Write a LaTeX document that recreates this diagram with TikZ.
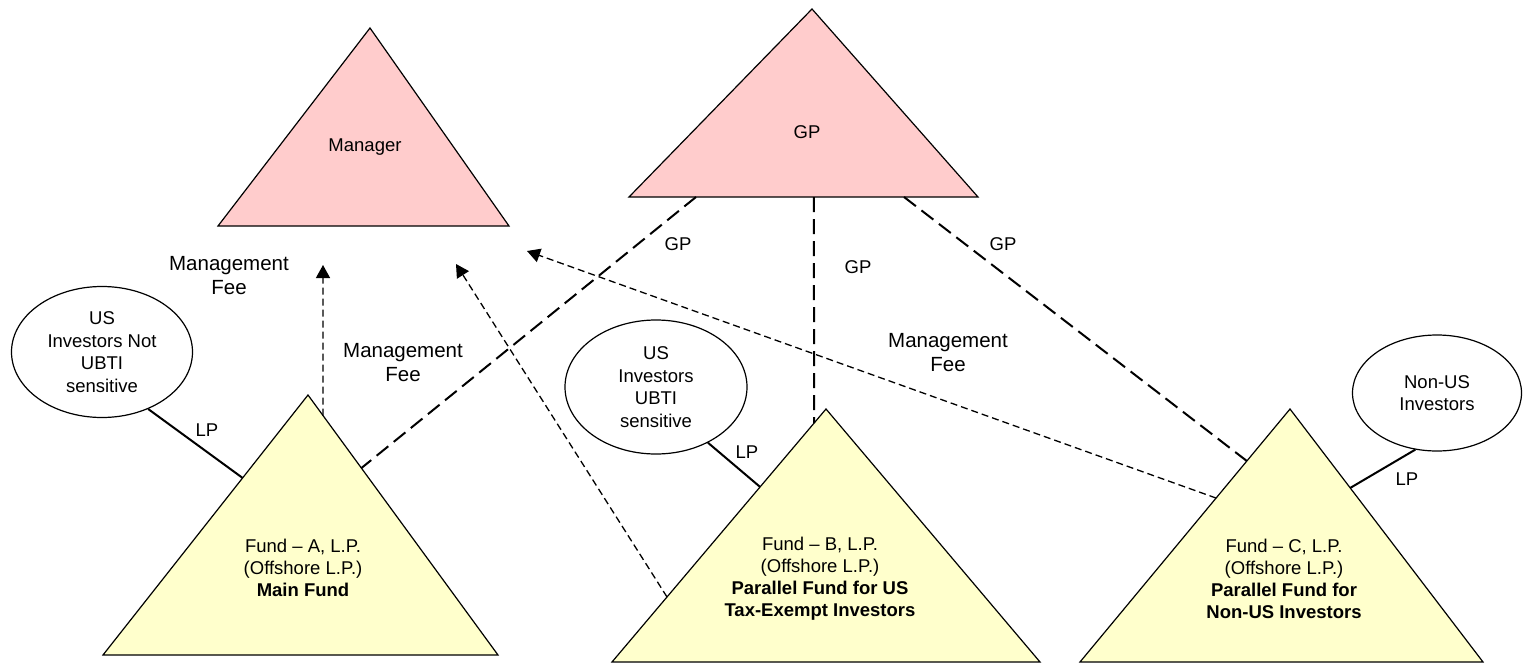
\documentclass[tikz,border=0pt]{standalone}
\usepackage{fontspec}
\setmainfont{Liberation Sans}
\usetikzlibrary{calc,arrows.meta,shapes.geometric}
\definecolor{entityred}{HTML}{FFCCCC}
\definecolor{fundyellow}{HTML}{FFFFCC}

\begin{document}
\begin{tikzpicture}[x=1pt,y=-1pt,
  entity/.style={draw=black, line width=1.2pt, line join=miter},
  topentity/.style={entity, fill=entityred},
  fundentity/.style={entity, fill=fundyellow},
  investor/.style={draw, ellipse, line width=1.2pt, inner sep=0pt, align=center,
    font=\fontsize{18.5}{22.5}\selectfont},
  txt/.style={align=center, inner sep=0pt, font=\fontsize{18.5}{22}\selectfont},
  feetxt/.style={align=center, inner sep=0pt, font=\fontsize{20.5}{24}\selectfont},
  lpline/.style={line width=2pt},
  gpline/.style={line width=2pt, dash pattern=on 15pt off 7pt},
  feeline/.style={line width=1.3pt, dash pattern=on 7pt off 4pt,
    -{Triangle[length=13pt,width=14pt]}},
]
\useasboundingbox (0,0) rectangle (1527,664);

% ---- triangle corners ----
\coordinate (M-t) at (370,28);  \coordinate (M-l) at (218,226); \coordinate (M-r) at (509,226);
\coordinate (G-t) at (812,9);   \coordinate (G-l) at (629,197); \coordinate (G-r) at (978,197);
\coordinate (A-t) at (308,395); \coordinate (A-l) at (103,655); \coordinate (A-r) at (498,655);
\coordinate (B-t) at (826,409); \coordinate (B-l) at (612,662); \coordinate (B-r) at (1040,662);
\coordinate (C-t) at (1290,409);\coordinate (C-l) at (1080,662);\coordinate (C-r) at (1483,662);

% ---- entities ----
\draw[topentity] (M-t) -- (M-r) -- (M-l) -- cycle;
\draw[topentity] (G-t) -- (G-r) -- (G-l) -- cycle;
\draw[fundentity] (A-t) -- (A-r) -- (A-l) -- cycle;
\draw[fundentity] (B-t) -- (B-r) -- (B-l) -- cycle;
\draw[fundentity] (C-t) -- (C-r) -- (C-l) -- cycle;

\node[txt] (manager) at (365,147) {Manager};
\node[txt] (gp) at (807,132) {GP};
\node[txt] (fundA) at (303,568) {Fund – A, L.P.\\(Offshore L.P.)\\\textbf{Main Fund}};
\node[txt] (fundB) at (820,579) {Fund – B, L.P.\\(Offshore L.P.)\\\textbf{Parallel Fund for US}\\\textbf{Tax-Exempt Investors}};
\node[txt] (fundC) at (1284,579) {Fund – C, L.P.\\(Offshore L.P.)\\\textbf{Parallel Fund for}\\\textbf{Non-US Investors}};

% ---- investor groups ----
\node[investor, minimum width=181pt, minimum height=131pt] (usnot) at (102,352) {US\\Investors Not\\UBTI\\sensitive};
\node[investor, minimum width=182pt, minimum height=134pt] (ubti) at (656,387) {US\\Investors\\UBTI\\sensitive};
\node[investor, minimum width=169pt, minimum height=116pt] (nonus) at (1437,393) {Non-US\\Investors};

% ---- connection points on the triangle edges ----
\coordinate (G-a) at ($(G-l)!0.192!(G-r)$);
\coordinate (G-b) at ($(G-l)!0.530!(G-r)$);
\coordinate (G-c) at ($(G-l)!0.788!(G-r)$);
\coordinate (A-gp) at ($(A-t)!0.281!(A-r)$);
\coordinate (B-gp) at ($(B-t)!0.056!(B-l)$);
\coordinate (C-gp) at ($(C-t)!0.2055!(C-l)$);

\coordinate (A-fee) at ($(A-t)!0.079!(A-r)$);
\coordinate (B-fee) at ($(B-t)!0.743!(B-l)$);
\coordinate (C-fee) at ($(C-t)!0.352!(C-l)$);
\coordinate (feeA) at (323,265);
\coordinate (feeB) at (456,264);
\coordinate (feeC) at (527,251);

\coordinate (A-lp) at ($(A-t)!0.319!(A-l)$);
\coordinate (B-lp) at ($(B-t)!0.308!(B-l)$);
\coordinate (C-lp) at ($(C-t)!0.312!(C-r)$);

% ---- GP interests ----
\draw[gpline] (G-a) -- (A-gp);
\draw[gpline] (G-b) -- (B-gp);
\draw[gpline] (G-c) -- (C-gp);
\node[txt] (gpA) at (678,244) {GP};
\node[txt] (gpB) at (858,267) {GP};
\node[txt] (gpC) at (1003,244) {GP};

% ---- LP interests ----
\draw[lpline] (usnot.-51.6) -- (A-lp);
\draw[lpline] (ubti.-47.7) -- (B-lp);
\draw[lpline] (nonus.-111.4) -- (C-lp);
\node[txt] (lpA) at (207,430) {LP};
\node[txt] (lpB) at (747,452) {LP};
\node[txt] (lpC) at (1407,479) {LP};

% ---- management fees ----
\draw[feeline] (A-fee) -- (feeA);
\draw[feeline] (B-fee) -- (feeB);
\draw[feeline] (C-fee) -- (feeC);
\node[feetxt] (feeAtxt) at (229,276) {Management\\Fee};
\node[feetxt] (feeBtxt) at (403,363) {Management\\Fee};
\node[feetxt] (feeCtxt) at (948,353) {Management\\Fee};
\end{tikzpicture}
\end{document}
